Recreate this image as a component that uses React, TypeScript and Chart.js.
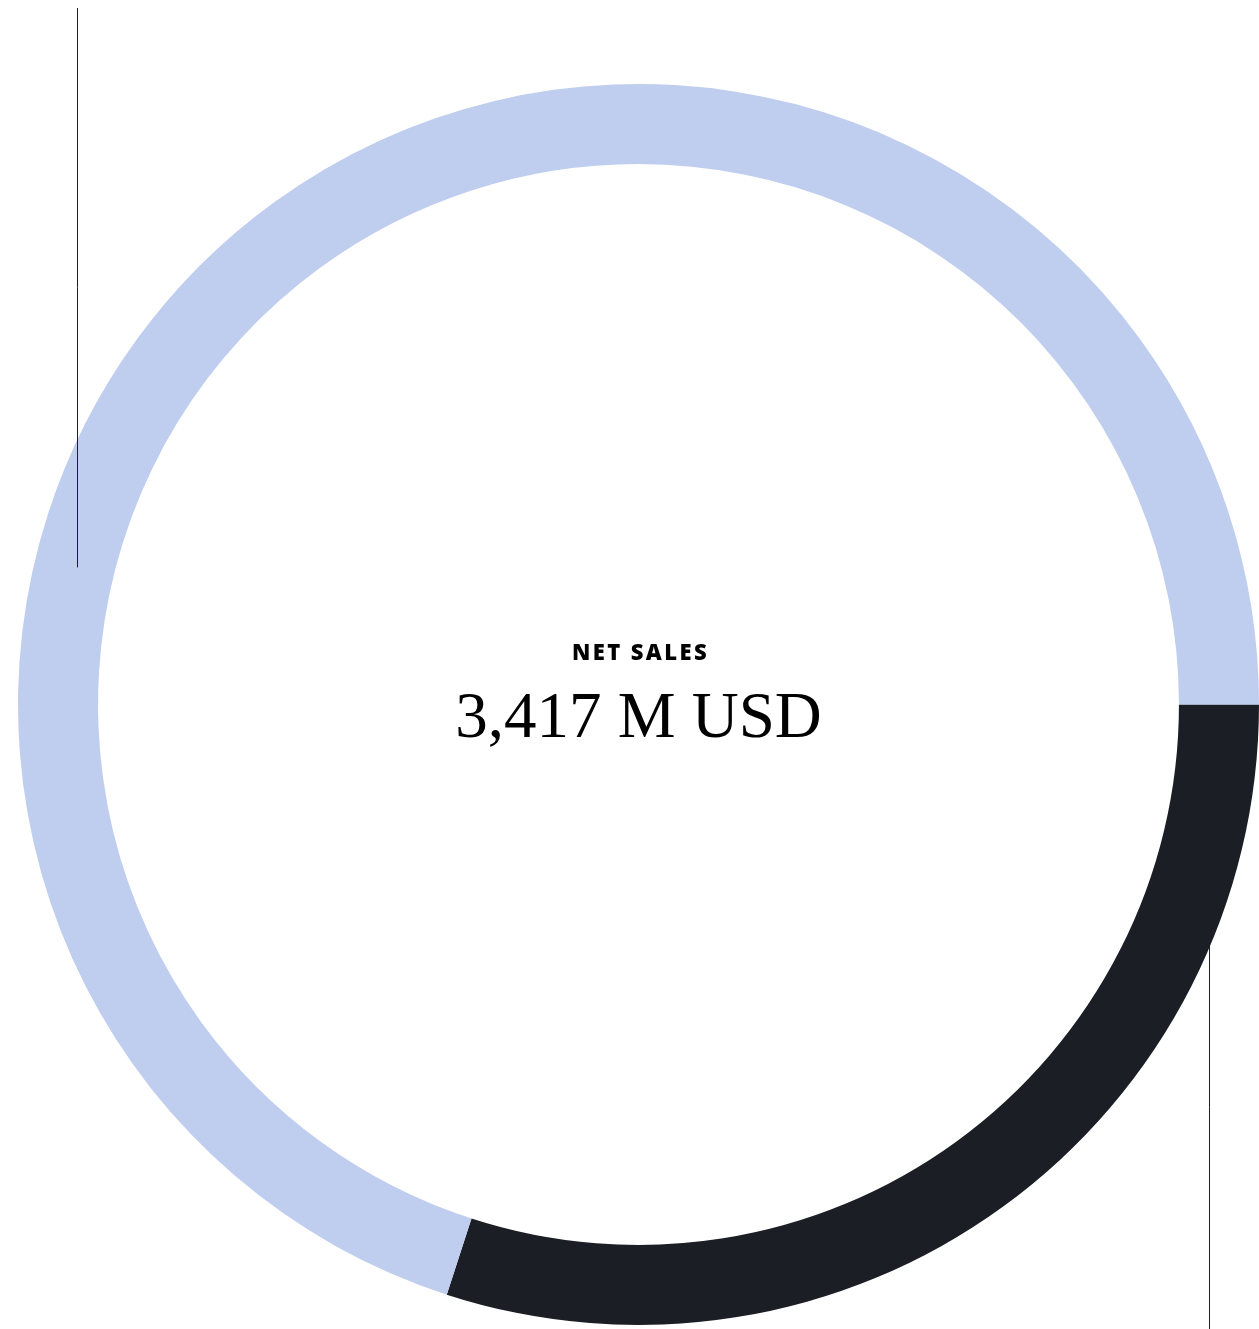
import React, { useEffect, useRef } from "react";
import { Chart, registerables } from "chart.js";

Chart.register(...registerables);

const categories = ["Segment 1", "Segment 2"];
const shareValues = [30, 70];
const segmentColors = ["#1B1E24", "#BFCDEF"];
const centerTitle = "NET SALES";
const centerValue = "3,417 M USD";

const centerTextPlugin = {
  id: "centerText",
  afterDraw(chart: any) {
    const { ctx, chartArea } = chart;
    const cx = (chartArea.left + chartArea.right) / 2;
    const cy = (chartArea.top + chartArea.bottom) / 2;
    const meta = chart.getDatasetMeta(0);
    const R = meta.data[0].outerRadius;
    ctx.save();
    // decorative leader lines
    ctx.strokeStyle = "#1B1E24";
    ctx.lineWidth = 1;
    ctx.beginPath();
    const lx = Math.round(cx - R * 0.905) + 0.5;
    ctx.moveTo(lx, 8);
    ctx.lineTo(lx, cy - R * 0.221);
    const rx = Math.round(cx + R * 0.92) + 0.5;
    ctx.moveTo(rx, cy + R * 0.187);
    ctx.lineTo(rx, chart.height);
    ctx.stroke();

    ctx.fillStyle = "#000";
    ctx.textAlign = "center";
    ctx.textBaseline = "middle";
    ctx.font = "800 22px 'Open Sans', sans-serif";
    try { (ctx as any).letterSpacing = "2.4px"; } catch (e) {}
    ctx.fillText(centerTitle, cx + 2, cy - 51);
    try { (ctx as any).letterSpacing = "0px"; } catch (e) {}
    ctx.font = "400 65px 'Liberation Serif', serif";
    ctx.textBaseline = "alphabetic";
    ctx.fillText(centerValue, cx, cy + 32);
    ctx.restore();
  },
};

export default function App() {
  const ref = useRef<HTMLCanvasElement | null>(null);
  useEffect(() => {
    if (!ref.current) return;
    const chart = new Chart(ref.current, {
      type: "doughnut",
      data: {
        labels: categories,
        datasets: [
          {
            data: shareValues,
            backgroundColor: segmentColors,
            borderWidth: 0,
          },
        ],
      },
      options: {
        responsive: false,
        animation: false,
        rotation: 90,
        cutout: "87.1%",
        layout: { padding: { left: 18, right: 3, top: 84, bottom: 69 } },
        plugins: {
          legend: { display: false },
          tooltip: { enabled: false },
        },
      },
      plugins: [centerTextPlugin],
    });
    return () => chart.destroy();
  }, []);
  return (
    <div style={{ position: "fixed", left: 0, top: 0, width: 1259, height: 1329, overflow: "hidden" }}>
      <canvas ref={ref} width={1262} height={1394} style={{ display: "block" }} />
    </div>
  );
}
